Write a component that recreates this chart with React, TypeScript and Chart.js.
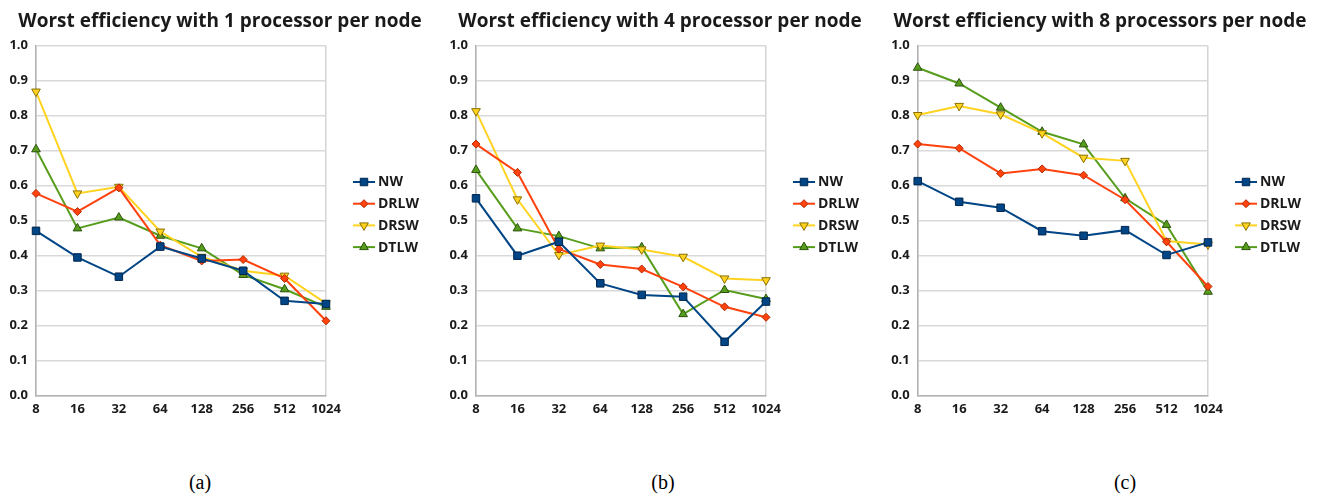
import React, { useEffect, useRef } from "react";
import { Chart, registerables } from "chart.js";

Chart.register(...registerables);

// ---------- data ----------
const categories = ["8", "16", "32", "64", "128", "256", "512", "1024"];
const seriesNames = ["NW", "DRLW", "DRSW", "DTLW"];

const nw1 = [0.471, 0.395, 0.34, 0.426, 0.392, 0.357, 0.271, 0.262];
const drlw1 = [0.578, 0.526, 0.594, 0.43, 0.385, 0.389, 0.335, 0.214];
const drsw1 = [0.869, 0.578, 0.597, 0.469, 0.397, 0.357, 0.343, 0.264];
const dtlw1 = [0.704, 0.478, 0.509, 0.457, 0.421, 0.345, 0.304, 0.254];

const nw4 = [0.564, 0.4, 0.44, 0.321, 0.288, 0.283, 0.154, 0.269];
const drlw4 = [0.719, 0.638, 0.419, 0.375, 0.362, 0.311, 0.254, 0.224];
const drsw4 = [0.813, 0.561, 0.402, 0.429, 0.418, 0.397, 0.335, 0.33];
const dtlw4 = [0.645, 0.478, 0.456, 0.421, 0.424, 0.233, 0.302, 0.276];

const nw8 = [0.613, 0.554, 0.537, 0.47, 0.457, 0.473, 0.402, 0.438];
const drlw8 = [0.719, 0.707, 0.635, 0.648, 0.63, 0.56, 0.44, 0.312];
const drsw8 = [0.802, 0.828, 0.804, 0.75, 0.68, 0.671, 0.442, 0.432];
const dtlw8 = [0.937, 0.892, 0.823, 0.754, 0.718, 0.564, 0.488, 0.297];

const titles = [
  "Worst efficiency with 1 processor per node",
  "Worst efficiency with 4 processor per node",
  "Worst efficiency with 8 processors per node",
];
const captions = ["(a)", "(b)", "(c)"];

const yMin = 0;
const yMax = 1;
const yStep = 0.1;

// ---------- styles ----------
const seriesStyles = [
  { color: "#004586", border: "#00264d", shape: "rect", radius: 5.3, rotation: 0 },
  { color: "#ff420e", border: "#b32a00", shape: "rectRot", radius: 4, rotation: 0 },
  { color: "#ffd320", border: "#8a7000", shape: "triangle", radius: 5, rotation: 180 },
  { color: "#579d1c", border: "#2c520c", shape: "triangle", radius: 5, rotation: 0 },
];

const panels = [
  { left: 0, width: 440, yAxisW: 36, padRight: 114, series: [nw1, drlw1, drsw1, dtlw1], captionX: 200 },
  { left: 440, width: 440, yAxisW: 36, padRight: 114, series: [nw4, drlw4, drsw4, dtlw4], captionX: 663 },
  { left: 880, width: 439, yAxisW: 37.7, padRight: 111, series: [nw8, drlw8, drsw8, dtlw8], captionX: 1125 },
];

const CANVAS_H = 440;
const FONT = '"Open Sans", "DejaVu Sans", sans-serif';

function drawMarker(
  ctx: CanvasRenderingContext2D,
  shape: string,
  x: number,
  y: number,
  r: number,
  rotationDeg: number
) {
  ctx.beginPath();
  if (shape === "rect") {
    const s = r * Math.SQRT1_2;
    ctx.rect(x - s, y - s, 2 * s, 2 * s);
  } else if (shape === "rectRot") {
    ctx.moveTo(x, y - r);
    ctx.lineTo(x + r, y);
    ctx.lineTo(x, y + r);
    ctx.lineTo(x - r, y);
    ctx.closePath();
  } else {
    let rad = (rotationDeg * Math.PI) / 180;
    ctx.moveTo(x + Math.sin(rad) * r, y - Math.cos(rad) * r);
    rad += (2 * Math.PI) / 3;
    ctx.lineTo(x + Math.sin(rad) * r, y - Math.cos(rad) * r);
    rad += (2 * Math.PI) / 3;
    ctx.lineTo(x + Math.sin(rad) * r, y - Math.cos(rad) * r);
    ctx.closePath();
  }
  ctx.fill();
  ctx.stroke();
}

const sideLegend = {
  id: "sideLegend",
  afterDraw(chart: any) {
    const { ctx, chartArea } = chart;
    const mx = chartArea.right + 38;
    chart.data.datasets.forEach((ds: any, i: number) => {
      const st = seriesStyles[i];
      const y = 182 + i * 21.7;
      ctx.save();
      ctx.strokeStyle = st.color;
      ctx.lineWidth = 2;
      ctx.beginPath();
      ctx.moveTo(mx - 11, y);
      ctx.lineTo(mx + 11, y);
      ctx.stroke();
      ctx.fillStyle = st.color;
      ctx.strokeStyle = st.border;
      ctx.lineWidth = 1;
      drawMarker(ctx, st.shape, mx, y, st.radius, st.rotation);
      ctx.fillStyle = "#1a1a1a";
      ctx.font = `bold 14px ${FONT}`;
      ctx.textAlign = "left";
      ctx.textBaseline = "middle";
      ctx.fillText(ds.label, mx + 14, y + 0.5);
      ctx.restore();
    });
  },
};

function Panel({ p }: { p: (typeof panels)[number] }) {
  const ref = useRef<HTMLCanvasElement>(null);
  useEffect(() => {
    const last = categories.length - 1;
    const chart = new Chart(ref.current as HTMLCanvasElement, {
      type: "line",
      data: {
        labels: categories,
        datasets: p.series.map((vals, i) => ({
          label: seriesNames[i],
          data: vals,
          borderColor: seriesStyles[i].color,
          backgroundColor: seriesStyles[i].color,
          borderWidth: 2,
          pointStyle: seriesStyles[i].shape as any,
          pointRadius: seriesStyles[i].radius,
          pointRotation: seriesStyles[i].rotation,
          pointBackgroundColor: seriesStyles[i].color,
          pointBorderColor: seriesStyles[i].border,
          pointBorderWidth: 1,
          tension: 0,
          fill: false,
        })),
      },
      options: {
        responsive: false,
        animation: false,
        devicePixelRatio: 1,
        layout: { padding: { left: 0, right: p.padRight, top: 45.7, bottom: CANVAS_H - 395.7 - 30 } },
        plugins: {
          legend: { display: false },
          title: { display: false },
          tooltip: { enabled: false },
        },
        scales: {
          x: {
            offset: false,
            afterFit: (scale: any) => {
              scale.height = 30;
            },
            grid: {
              drawTicks: false,
              lineWidth: 1.5,
              color: (c: any) => (c.index === 0 || c.index === last ? "#d4d4d4" : "rgba(0,0,0,0)"),
            },
            border: { display: true, color: "#b3b3b3", width: 1.5 },
            ticks: {
              padding: 6,
              color: "#1a1a1a",
              font: { family: FONT, size: 13, weight: "bold" },
              maxRotation: 0,
              autoSkip: false,
            },
          },
          y: {
            min: yMin,
            max: yMax,
            afterFit: (scale: any) => {
              scale.width = p.yAxisW;
            },
            grid: { drawTicks: false, lineWidth: 1.5, color: "#d9d9d9" },
            border: { display: true, color: "#b3b3b3", width: 1.5 },
            ticks: {
              stepSize: yStep,
              padding: 8,
              color: "#1a1a1a",
              font: { family: FONT, size: 13, weight: "bold" },
              callback: (v: any) => Number(v).toFixed(1),
            },
          },
        },
      },
      plugins: [sideLegend],
    } as any);
    return () => chart.destroy();
  }, []);
  return (
    <canvas
      ref={ref}
      width={p.width}
      height={CANVAS_H}
      style={{ position: "absolute", left: p.left, top: 0, width: p.width, height: CANVAS_H }}
    />
  );
}

export default function App() {
  return (
    <div
      style={{
        position: "absolute",
        left: 0,
        top: 0,
        width: 1319,
        height: 500,
        background: "#ffffff",
        overflow: "hidden",
      }}
    >
      {panels.map((p, i) => (
        <React.Fragment key={i}>
          <Panel p={p} />
          <div
            style={{
              position: "absolute",
              left: p.left,
              top: 11,
              width: 440,
              textAlign: "center",
              fontFamily: FONT,
              fontWeight: "bold",
              fontSize: 19,
              lineHeight: "19px",
              color: "#1a1a1a",
              whiteSpace: "nowrap",
            }}
          >
            {titles[i]}
          </div>
          <div
            style={{
              position: "absolute",
              left: p.captionX - 50,
              top: 472,
              width: 100,
              textAlign: "center",
              fontFamily: '"Liberation Serif", "Times New Roman", serif',
              fontSize: 20,
              lineHeight: "20px",
              color: "#000",
            }}
          >
            {captions[i]}
          </div>
        </React.Fragment>
      ))}
    </div>
  );
}
